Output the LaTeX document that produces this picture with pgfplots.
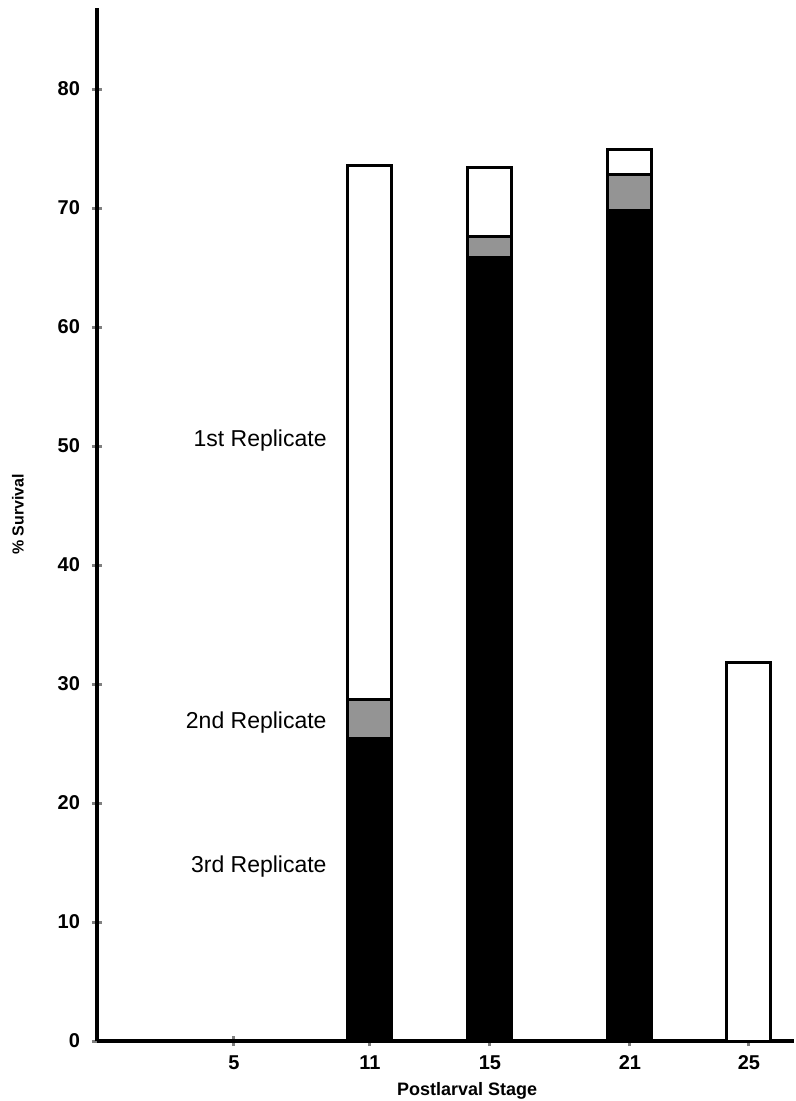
\documentclass[border=0pt]{standalone}
\usepackage{pgfplots}
\pgfplotsset{compat=1.18}
\usepackage{fontspec}
\setmainfont{Liberation Sans}

\begin{document}
\begin{tikzpicture}
\begin{axis}[
    scale only axis,
    width=348.5pt, height=516.5pt,
    xmin=97, xmax=794,
    ymin=0, ymax=86.8,
    axis lines=left,
    axis line style={-, line width=2pt},
    clip=false,
    xtick={234,370,490,630,749},
    xticklabels={5,11,15,21,25},
    ytick={0,10,20,30,40,50,60,70,80},
    /pgf/number format/assume math mode=true,
    ticklabel style={font=\bfseries\fontsize{10}{12}\selectfont},
    ytick style={line width=1.5pt},
    xtick style={line width=1.5pt},
    y tick label style={xshift=-2.5pt},
    x tick label style={anchor=north, text height=7.5pt, text depth=0pt, yshift=-0.8pt},
    major tick length=5pt,
    tick align=center,
    ylabel={\% Survival},
    xlabel={Postlarval Stage},
    ylabel style={font=\bfseries\fontsize{8}{10}\selectfont, at={(axis description cs:0,0.51)}, anchor=center, yshift=39.5pt},
    xlabel style={font=\bfseries\fontsize{9}{11}\selectfont, at={(axis description cs:0.531,0)}, anchor=base, inner sep=0pt, yshift=-27pt},
    ybar stacked,
    bar width=22pt,
]
% 3rd replicate (black)
\addplot[fill=black, draw=black, line width=1.5pt] coordinates {(370,25.4) (490,65.8) (630,69.8) (749,0)};
% 2nd replicate (stippled grey)
\addplot[fill=black!42, draw=black, line width=1.5pt] coordinates {(370,3.3) (490,1.8) (630,3.0) (749,0)};
% 1st replicate (white)
\addplot[fill=white, draw=black, line width=1.5pt] coordinates {(370,44.9) (490,5.8) (630,2.1) (749,31.8)};

\node[anchor=east, inner sep=0pt, font=\fontsize{11.5}{13}\selectfont] at (axis cs:327,50.5) {1st Replicate};
\node[anchor=east, inner sep=0pt, font=\fontsize{11.5}{13}\selectfont] at (axis cs:327,26.8) {2nd Replicate};
\node[anchor=east, inner sep=0pt, font=\fontsize{11.5}{13}\selectfont] at (axis cs:327,14.7) {3rd Replicate};

\path (axis cs:0,87.48) (axis cs:796,-5.04);
\end{axis}
\end{tikzpicture}
\end{document}
